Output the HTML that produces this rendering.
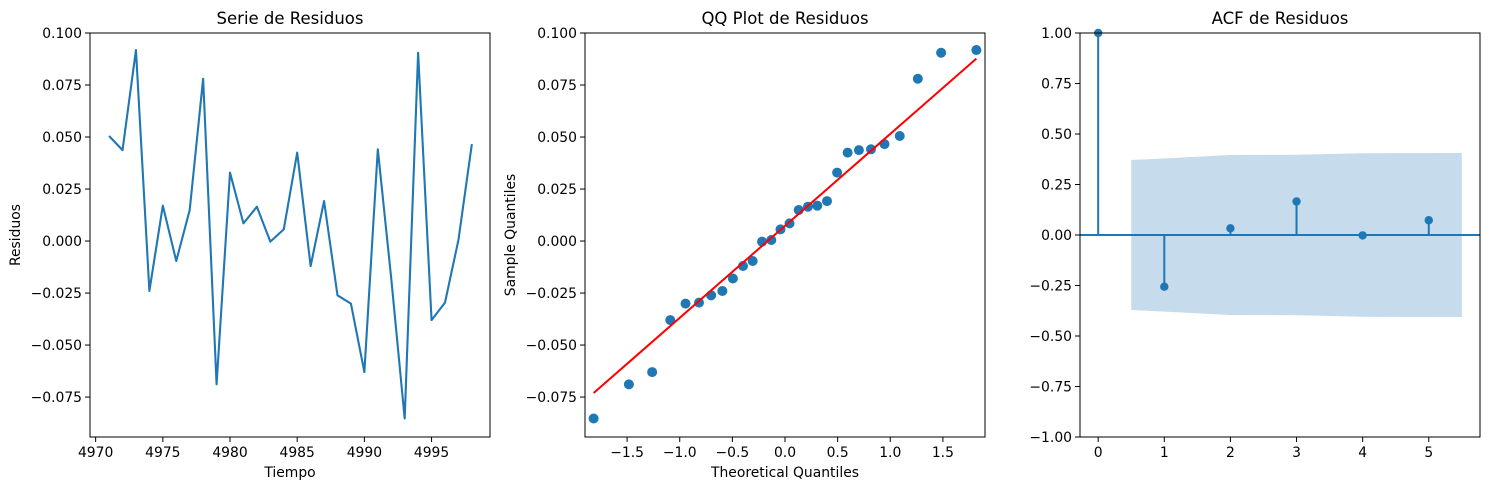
<!DOCTYPE html>
<html><head><meta charset="utf-8"><style>
body{margin:0;background:#fff;}
svg{display:block;font-family:"DejaVu Sans","Liberation Sans",sans-serif;}
</style></head><body>
<svg id="fig" width="1489" height="490" viewBox="0 0 1489 490" xmlns="http://www.w3.org/2000/svg"></svg>
<script>
// ---- data ----
const years = [4971,4972,4973,4974,4975,4976,4977,4978,4979,4980,4981,4982,4983,4984,4985,4986,4987,4988,4989,4990,4991,4992,4993,4994,4995,4996,4997,4998];
const residuals = [0.0505,0.0437,0.0918,-0.024,0.017,-0.0096,0.0149,0.078,-0.0689,0.0329,0.0085,0.0165,-0.0003,0.0056,0.0425,-0.012,0.0192,-0.0261,-0.0301,-0.063,0.0441,-0.018,-0.0853,0.0905,-0.038,-0.0296,0.0005,0.0466];
const theoQuantiles = [-1.818,-1.483,-1.262,-1.090,-0.945,-0.817,-0.702,-0.595,-0.495,-0.399,-0.307,-0.218,-0.130,-0.043,0.043,0.130,0.218,0.307,0.399,0.495,0.595,0.702,0.817,0.945,1.090,1.262,1.483,1.818];
const qqLineSlope = 0.0442;
const qqLineIntercept = 0.0073;
const acfLags = [0,1,2,3,4,5];
const acfValues = [1.0,-0.256,0.033,0.166,-0.002,0.073];
const bandLags = [0.5,2,3,4,5.5];
const bandUpper = [0.371,0.396,0.397,0.405,0.406];
const resTicks = [-0.075,-0.050,-0.025,0.000,0.025,0.050,0.075,0.100];
const resTickLabels = ["\u22120.075","\u22120.050","\u22120.025","0.000","0.025","0.050","0.075","0.100"];
const yearTicks = [4970,4975,4980,4985,4990,4995];
const qqXTicks = [-1.5,-1.0,-0.5,0.0,0.5,1.0,1.5];
const qqXTickLabels = ["\u22121.5","\u22121.0","\u22120.5","0.0","0.5","1.0","1.5"];
const acfYTicks = [-1,-0.75,-0.5,-0.25,0,0.25,0.5,0.75,1];
const acfYTickLabels = ["\u22121.00","\u22120.75","\u22120.50","\u22120.25","0.00","0.25","0.50","0.75","1.00"];
const acfXTicks = [0,1,2,3,4,5];

const NS="http://www.w3.org/2000/svg";
const svg=document.getElementById('fig');
function el(tag,attrs,parent){const e=document.createElementNS(NS,tag);for(const k in attrs)e.setAttribute(k,attrs[k]);(parent||svg).appendChild(e);return e;}
function txt(s,attrs,parent){const e=el('text',attrs,parent);e.textContent=s;return e;}
const C='#1f77b4';
const TOP=33, BOT=437;

function axes(name,L,R,xmin,xmax,ymin,ymax){
  const g=el('g',{});
  
  
  return {g,L,R,x:v=>L+(v-xmin)/(xmax-xmin)*(R-L),y:v=>BOT-(v-ymin)/(ymax-ymin)*(BOT-TOP)};
}
function frame(a,title,xlabel,ylabel,ylabX,xt,xtl,yt,ytl){
  const fr=el('rect',{x:a.L,y:TOP,width:a.R-a.L,height:BOT-TOP,fill:'none',stroke:'#000','stroke-width':1},a.g);
  
  const t=txt(title,{x:(a.L+a.R)/2,y:24,'text-anchor':'middle','font-size':'16.5px'},a.g);
  
  xt.forEach((v,i)=>{const X=a.x(v);el('line',{x1:X,x2:X,y1:BOT,y2:BOT+5,stroke:'#000'},a.g);
    const l=txt(xtl[i],{x:X,y:BOT+20,'text-anchor':'middle','font-size':'13.9px'},a.g);
    });
  yt.forEach((v,i)=>{const Y=a.y(v);el('line',{x1:a.L-5,x2:a.L,y1:Y,y2:Y,stroke:'#000'},a.g);
    const l=txt(ytl[i],{x:a.L-8,y:Y+5,'text-anchor':'end','font-size':'13.9px'},a.g);
    });
  if(xlabel){const l=txt(xlabel,{x:(a.L+a.R)/2,y:477,'text-anchor':'middle','font-size':'13.9px'},a.g);
    }
  if(ylabel){const cy=(TOP+BOT)/2;const l=txt(ylabel,{x:ylabX,y:cy,'text-anchor':'middle','font-size':'13.9px',transform:`rotate(-90 ${ylabX} ${cy})`},a.g);
    }
}

// Panel 1
const a1=axes('residual-series-panel',90,490,4969.58,4999.35,-0.0942,0.1);
const pl=el('polyline',{points:years.map((yr,i)=>a1.x(yr)+','+a1.y(residuals[i])).join(' '),fill:'none',stroke:C,'stroke-width':2.1,'stroke-linejoin':'round'},a1.g);

frame(a1,'Serie de Residuos','Tiempo','Residuos',20,yearTicks,yearTicks.map(String),resTicks,resTickLabels);

// Panel 2
const a2=axes('qq-plot-panel',585,985,-1.9,1.9,-0.0942,0.1);
const sorted=residuals.slice().sort((p,q)=>p-q);
theoQuantiles.forEach((q,i)=>{const c=el('circle',{cx:a2.x(q),cy:a2.y(sorted[i]),r:5,fill:C},a2.g);
  });
const q0=theoQuantiles[0],q1=theoQuantiles[theoQuantiles.length-1];
const rl=el('line',{x1:a2.x(q0),y1:a2.y(qqLineIntercept+qqLineSlope*q0),x2:a2.x(q1),y2:a2.y(qqLineIntercept+qqLineSlope*q1),stroke:'#ff0000','stroke-width':2},a2.g);

frame(a2,'QQ Plot de Residuos','Theoretical Quantiles','Sample Quantiles',515,qqXTicks,qqXTickLabels,resTicks,resTickLabels);

// Panel 3
const a3=axes('acf-panel',1080,1480,-0.275,5.775,-1,1);
const up=bandLags.map((l,i)=>a3.x(l)+','+a3.y(bandUpper[i]));
const lo=bandLags.slice().reverse().map((l,i)=>a3.x(l)+','+a3.y(-bandUpper[bandUpper.length-1-i]));
const band=el('polygon',{points:up.concat(lo).join(' '),fill:'#c6dbec'},a3.g);

const zl=el('line',{x1:a3.L,x2:a3.R,y1:a3.y(0),y2:a3.y(0),stroke:C,'stroke-width':2},a3.g);

acfLags.forEach((l,i)=>{
  const s=el('line',{x1:a3.x(l),x2:a3.x(l),y1:a3.y(0),y2:a3.y(acfValues[i]),stroke:C,'stroke-width':2},a3.g);
  
  const c=el('circle',{cx:a3.x(l),cy:a3.y(acfValues[i]),r:4.2,fill:C},a3.g);
  
});
frame(a3,'ACF de Residuos','','',0,acfXTicks,acfXTicks.map(String),acfYTicks,acfYTickLabels);
</script>
</body></html>
